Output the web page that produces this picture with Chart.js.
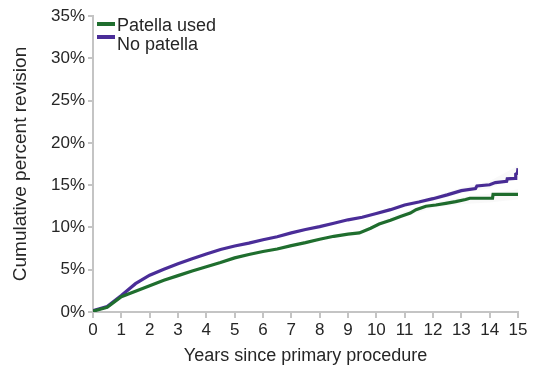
<!DOCTYPE html>
<html>
<head>
<meta charset="utf-8">
<script src="https://cdn.jsdelivr.net/npm/chart.js@4/dist/chart.umd.min.js"></script>
<style>
  html, body { margin: 0; padding: 0; background: #ffffff; }
  #wrap { width: 535px; height: 367px; position: relative; }
</style>
</head>
<body>
<div id="wrap"><canvas id="c" width="535" height="367"></canvas></div>
<script>
// Cumulative percent revision by years since primary procedure
const seriesNames = ['Patella used', 'No patella'];
const seriesColors = ['#1f6e2e', '#4a2d98'];

const patellaYears = [0, 0.5, 1, 1.5, 2, 2.5, 3, 3.5, 4, 4.5, 5, 5.5, 6, 6.5, 7, 7.5, 8, 8.5, 9, 9.4, 9.8, 10.1, 10.5, 10.85, 11.2, 11.4, 11.75, 12.1, 12.45, 12.8, 13.15, 13.3, 14.1, 14.12, 15];
const patellaRates = [0.1, 0.55, 1.8, 2.45, 3.1, 3.75, 4.3, 4.85, 5.35, 5.85, 6.4, 6.8, 7.15, 7.45, 7.85, 8.2, 8.6, 8.95, 9.2, 9.35, 9.9, 10.4, 10.85, 11.3, 11.7, 12.1, 12.5, 12.65, 12.85, 13.05, 13.3, 13.45, 13.45, 13.9, 13.9];

const noPatellaYears = [0, 0.5, 1, 1.5, 2, 2.5, 3, 3.5, 4, 4.5, 5, 5.5, 6, 6.5, 7, 7.5, 8, 8.5, 9, 9.5, 10, 10.5, 11, 11.5, 12, 12.5, 13, 13.5, 13.55, 14, 14.2, 14.6, 14.62, 14.9, 14.92, 14.98, 15];
const noPatellaRates = [0.15, 0.65, 1.95, 3.35, 4.35, 5.05, 5.7, 6.3, 6.85, 7.4, 7.8, 8.15, 8.55, 8.9, 9.35, 9.75, 10.1, 10.5, 10.9, 11.2, 11.65, 12.1, 12.65, 13.0, 13.4, 13.85, 14.35, 14.6, 14.9, 15.05, 15.3, 15.45, 15.75, 15.8, 16.3, 16.4, 17.0];

// Confidence band limits (late follow-up)
const bandYears = [10, 11, 12, 13, 14, 15];
const patellaLower = [10.1, 11.3, 12.3, 12.75, 12.95, 13.3];
const patellaUpper = [10.5, 11.9, 12.95, 13.6, 14.0, 14.5];
const noPatellaLower = [11.45, 12.4, 13.1, 14.0, 14.6, 15.9];
const noPatellaUpper = [11.85, 12.9, 13.7, 14.7, 15.5, 17.3];

const xTicks = [0, 1, 2, 3, 4, 5, 6, 7, 8, 9, 10, 11, 12, 13, 14, 15];
const yTicks = [0, 5, 10, 15, 20, 25, 30, 35];
const yTickLabels = ['0%', '5%', '10%', '15%', '20%', '25%', '30%', '35%'];

const xTitle = 'Years since primary procedure';
const yTitle = 'Cumulative percent revision';

const textColor = '#262626';
const axisColor = '#c4c4c4';
const fontFamily = '"Liberation Sans", Arial, Helvetica, sans-serif';

function pts(xs, ys) { return xs.map((x, i) => ({ x: x, y: ys[i] })); }

const bandFill = 'rgba(0,0,0,0.025)';
const datasets = [
  { label: 'pl', data: pts(bandYears, patellaLower), borderWidth: 0, pointRadius: 0, fill: false },
  { label: 'pu', data: pts(bandYears, patellaUpper), borderWidth: 0, pointRadius: 0, fill: '-1', backgroundColor: bandFill },
  { label: 'nl', data: pts(bandYears, noPatellaLower), borderWidth: 0, pointRadius: 0, fill: false },
  { label: 'nu', data: pts(bandYears, noPatellaUpper), borderWidth: 0, pointRadius: 0, fill: '-1', backgroundColor: bandFill },
  { label: seriesNames[0], data: pts(patellaYears, patellaRates), borderColor: seriesColors[0], borderWidth: 3.2, pointRadius: 0, fill: false, tension: 0 },
  { label: seriesNames[1], data: pts(noPatellaYears, noPatellaRates), borderColor: seriesColors[1], borderWidth: 3.2, pointRadius: 0, fill: false, tension: 0 }
];

// Legend drawn in the upper-left corner of the plot area
const cornerLegend = {
  id: 'cornerLegend',
  afterDraw(chart) {
    const ctx = chart.ctx;
    const a = chart.chartArea;
    const rows = [
      { color: seriesColors[0], text: seriesNames[0], lineY: a.top + 8, textY: a.top + 10 },
      { color: seriesColors[1], text: seriesNames[1], lineY: a.top + 21, textY: a.top + 29 }
    ];
    ctx.save();
    ctx.font = '18px ' + fontFamily;
    ctx.textBaseline = 'middle';
    ctx.textAlign = 'left';
    rows.forEach(r => {
      ctx.fillStyle = r.color;
      ctx.fillRect(a.left + 4, r.lineY - 2, 18, 4);
      ctx.fillStyle = textColor;
      ctx.fillText(r.text, a.left + 24, r.textY);
    });
    ctx.restore();
  }
};

new Chart(document.getElementById('c'), {
  type: 'line',
  data: { datasets: datasets },
  plugins: [cornerLegend],
  options: {
    responsive: false,
    animation: false,
    events: [],
    layout: { padding: { left: 0, right: 17, top: 16, bottom: 0 } },
    plugins: { legend: { display: false }, tooltip: { enabled: false } },
    scales: {
      x: {
        type: 'linear',
        min: 0, max: 15,
        afterBuildTicks(scale) { scale.ticks = xTicks.map(v => ({ value: v })); },
        afterFit(scale) { scale.height = 55; },
        ticks: { color: textColor, font: { size: 17, family: fontFamily }, padding: 2, maxRotation: 0, autoSkip: false },
        grid: { drawOnChartArea: false, drawTicks: true, tickLength: 6, color: axisColor, lineWidth: 2 },
        border: { display: true, color: axisColor, width: 2 },
        title: { display: true, text: xTitle, color: textColor, font: { size: 18, family: fontFamily }, padding: { top: 0, bottom: 0 } }
      },
      y: {
        type: 'linear',
        min: 0, max: 35,
        afterBuildTicks(scale) { scale.ticks = yTicks.map(v => ({ value: v })); },
        afterFit(scale) { scale.width = 93; },
        ticks: {
          color: textColor, font: { size: 17, family: fontFamily }, padding: 3,
          callback: (v) => yTickLabels[yTicks.indexOf(v)]
        },
        grid: { drawOnChartArea: false, drawTicks: true, tickLength: 5, color: axisColor, lineWidth: 2 },
        border: { display: true, color: axisColor, width: 2 },
        title: { display: true, text: yTitle, color: textColor, font: { size: 19, family: fontFamily }, padding: { top: 9, bottom: 0 } }
      }
    }
  }
});
</script>
</body>
</html>
